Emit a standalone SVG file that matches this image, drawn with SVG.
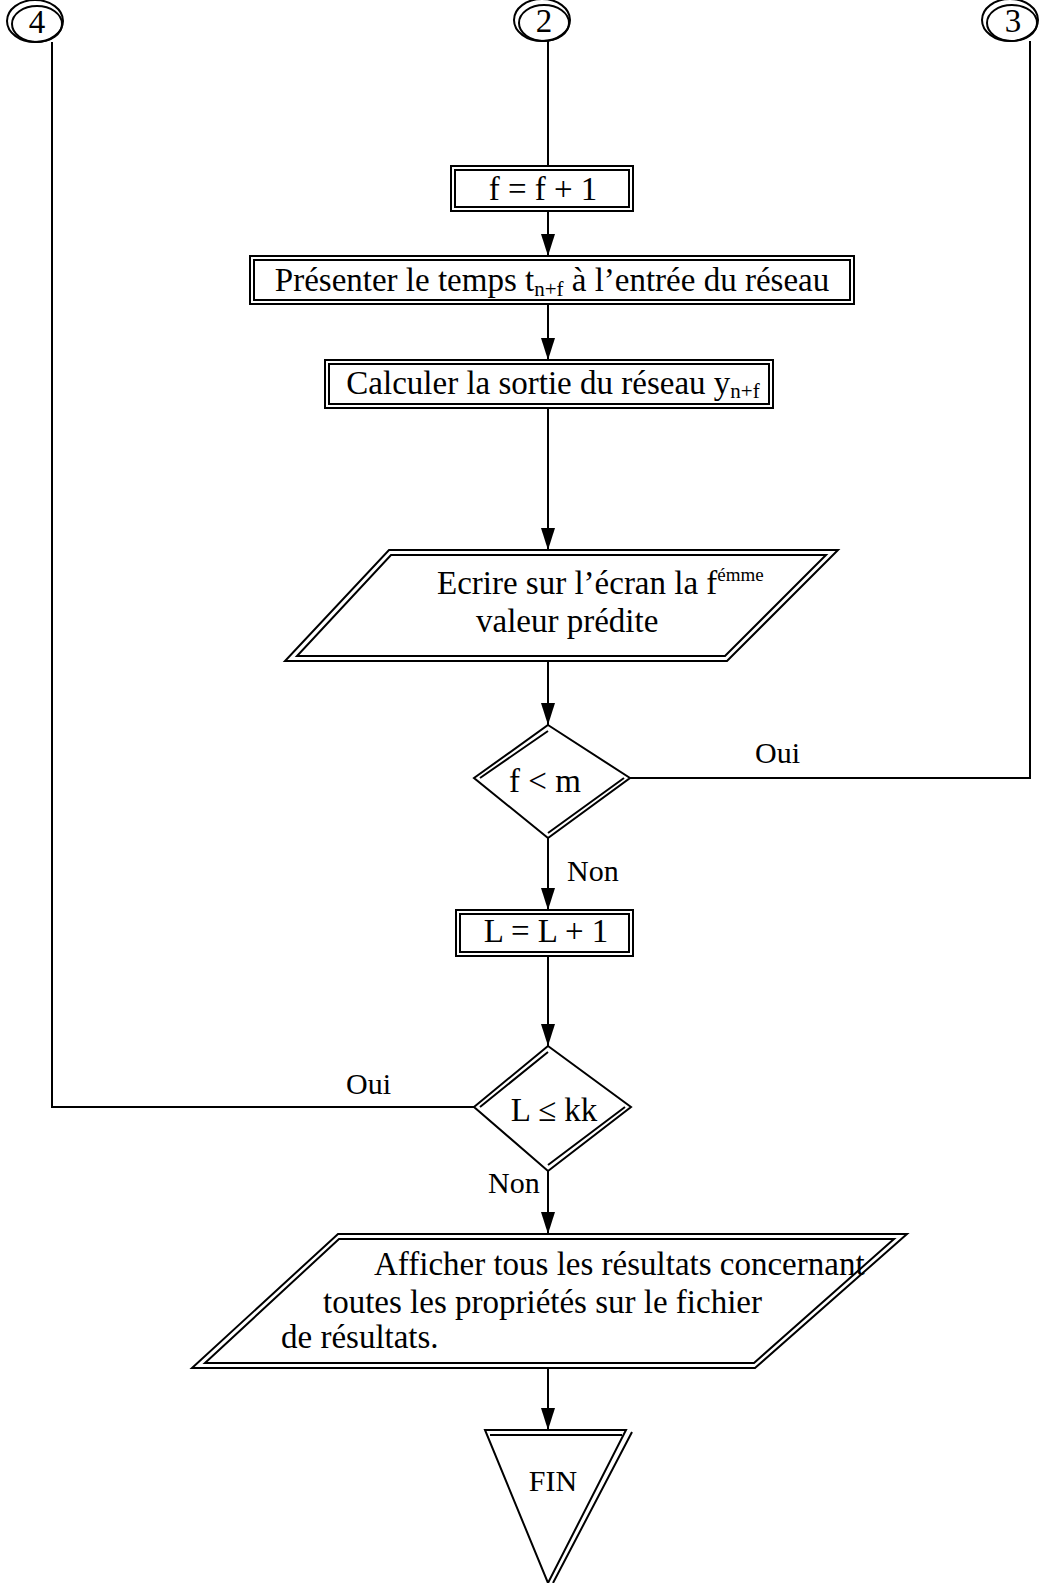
<svg xmlns="http://www.w3.org/2000/svg" width="1054" height="1583" viewBox="0 0 1054 1583">
<style>
.s{fill:none;stroke:#000;stroke-width:2}
.sf{fill:#fff;stroke:#000;stroke-width:2}
.t{font-family:"Liberation Serif","Times New Roman",serif;font-size:33px;fill:#000}
.l{font-size:30px}
.c{text-anchor:middle}
.w{fill:none;stroke:#000;stroke-width:2}
</style>
<g id="connectors">
<path class="w" d="M548,41 V166"/>
<path class="w" d="M548,211 V256"/>
<path class="w" d="M548,304 V360"/>
<path class="w" d="M548,408 V550"/>
<path class="w" d="M548,661 V725"/>
<path class="w" d="M548,838 V910"/>
<path class="w" d="M548,956 V1046"/>
<path class="w" d="M548,1171 V1234"/>
<path class="w" d="M548,1368 V1430"/>
<path class="w" d="M1030,41 V778 H630"/>
<path class="w" d="M52,42 V1107 H474"/>
<path d="M541,234 L555,234 L548,256 Z"/>
<path d="M541,338 L555,338 L548,360 Z"/>
<path d="M541,528 L555,528 L548,550 Z"/>
<path d="M541,703 L555,703 L548,725 Z"/>
<path d="M541,888 L555,888 L548,910 Z"/>
<path d="M541,1024 L555,1024 L548,1046 Z"/>
<path d="M541,1212 L555,1212 L548,1234 Z"/>
<path d="M541,1408 L555,1408 L548,1430 Z"/>
<text class="t l" x="755" y="763">Oui</text>
<text class="t l" x="567" y="881">Non</text>
<text class="t l" x="346" y="1094">Oui</text>
<text class="t l" x="488" y="1193">Non</text>
</g>
<g id="c4">
<ellipse class="s" cx="35" cy="21" rx="28" ry="21"/>
<ellipse class="s" cx="37" cy="24" rx="25" ry="18"/>
<text class="t c" x="37" y="33" font-size="28">4</text>
</g>
<g id="c2">
<ellipse class="s" cx="542" cy="20" rx="28" ry="21"/>
<ellipse class="s" cx="544" cy="23" rx="25" ry="18"/>
<text class="t c" x="544" y="32" font-size="28">2</text>
</g>
<g id="c3">
<ellipse class="s" cx="1010" cy="20" rx="28" ry="21"/>
<ellipse class="s" cx="1012" cy="23" rx="25" ry="18"/>
<text class="t c" x="1013" y="32" font-size="28">3</text>
</g>
<g id="n1">
<rect class="sf" x="451" y="166" width="182" height="45"/>
<rect class="s" x="455" y="170" width="174" height="37"/>
<text class="t c" x="543" y="200">f = f + 1</text>
</g>
<g id="n2">
<rect class="sf" x="250" y="256" width="604" height="48"/>
<rect class="s" x="254" y="260" width="596" height="40"/>
<text class="t c" x="552" y="291">Présenter le temps t<tspan font-size="21" dy="5">n+f</tspan><tspan dy="-5"> à l’entrée du réseau</tspan></text>
</g>
<g id="n3">
<rect class="sf" x="325" y="360" width="448" height="48"/>
<rect class="s" x="329" y="364" width="440" height="40"/>
<text class="t c" x="553" y="394">Calculer la sortie du réseau y<tspan font-size="21" dy="4">n+f</tspan></text>
</g>
<g id="n4">
<polygon class="sf" points="389,550 838,550 727,661 285,661"/>
<polygon class="s" points="391,555 826,555 725,656 297,656"/>
<text class="t" x="437" y="594">Ecrire sur l’écran la f<tspan font-size="19" dy="-13">émme</tspan></text>
<text class="t" x="476" y="632">valeur prédite</text>
</g>
<g id="n5">
<polygon class="sf" points="548,725 630,778 548,838 474,778"/>
<path class="s" d="M480,778 L548,731 M624,778 L548,833"/>
<text class="t c" x="545" y="792">f &lt; m</text>
</g>
<g id="n6">
<rect class="sf" x="456" y="910" width="177" height="46"/>
<rect class="s" x="460" y="914" width="169" height="38"/>
<text class="t c" x="546" y="942">L = L + 1</text>
</g>
<g id="n7">
<polygon class="sf" points="548,1046 631,1107 548,1171 474,1107"/>
<path class="s" d="M480,1107 L548,1052 M625,1107 L548,1165"/>
<text class="t c" x="554" y="1121">L ≤ kk</text>
</g>
<g id="n8">
<polygon class="sf" points="338,1234 907,1234 755,1368 192,1368"/>
<polygon class="s" points="339,1239 894,1239 754,1363 205,1363"/>
<text class="t" x="374" y="1275">Afficher tous les résultats concernant</text>
<text class="t" x="323" y="1313">toutes les propriétés sur le fichier</text>
<text class="t" x="281" y="1348">de résultats.</text>
</g>
<g id="n9">
<polygon class="sf" points="485,1430 626,1430 548,1583"/>
<path class="s" d="M490,1435 L622,1435 M632,1432 L553,1583"/>
<text class="t c l" x="553" y="1491">FIN</text>
</g>
</svg>
